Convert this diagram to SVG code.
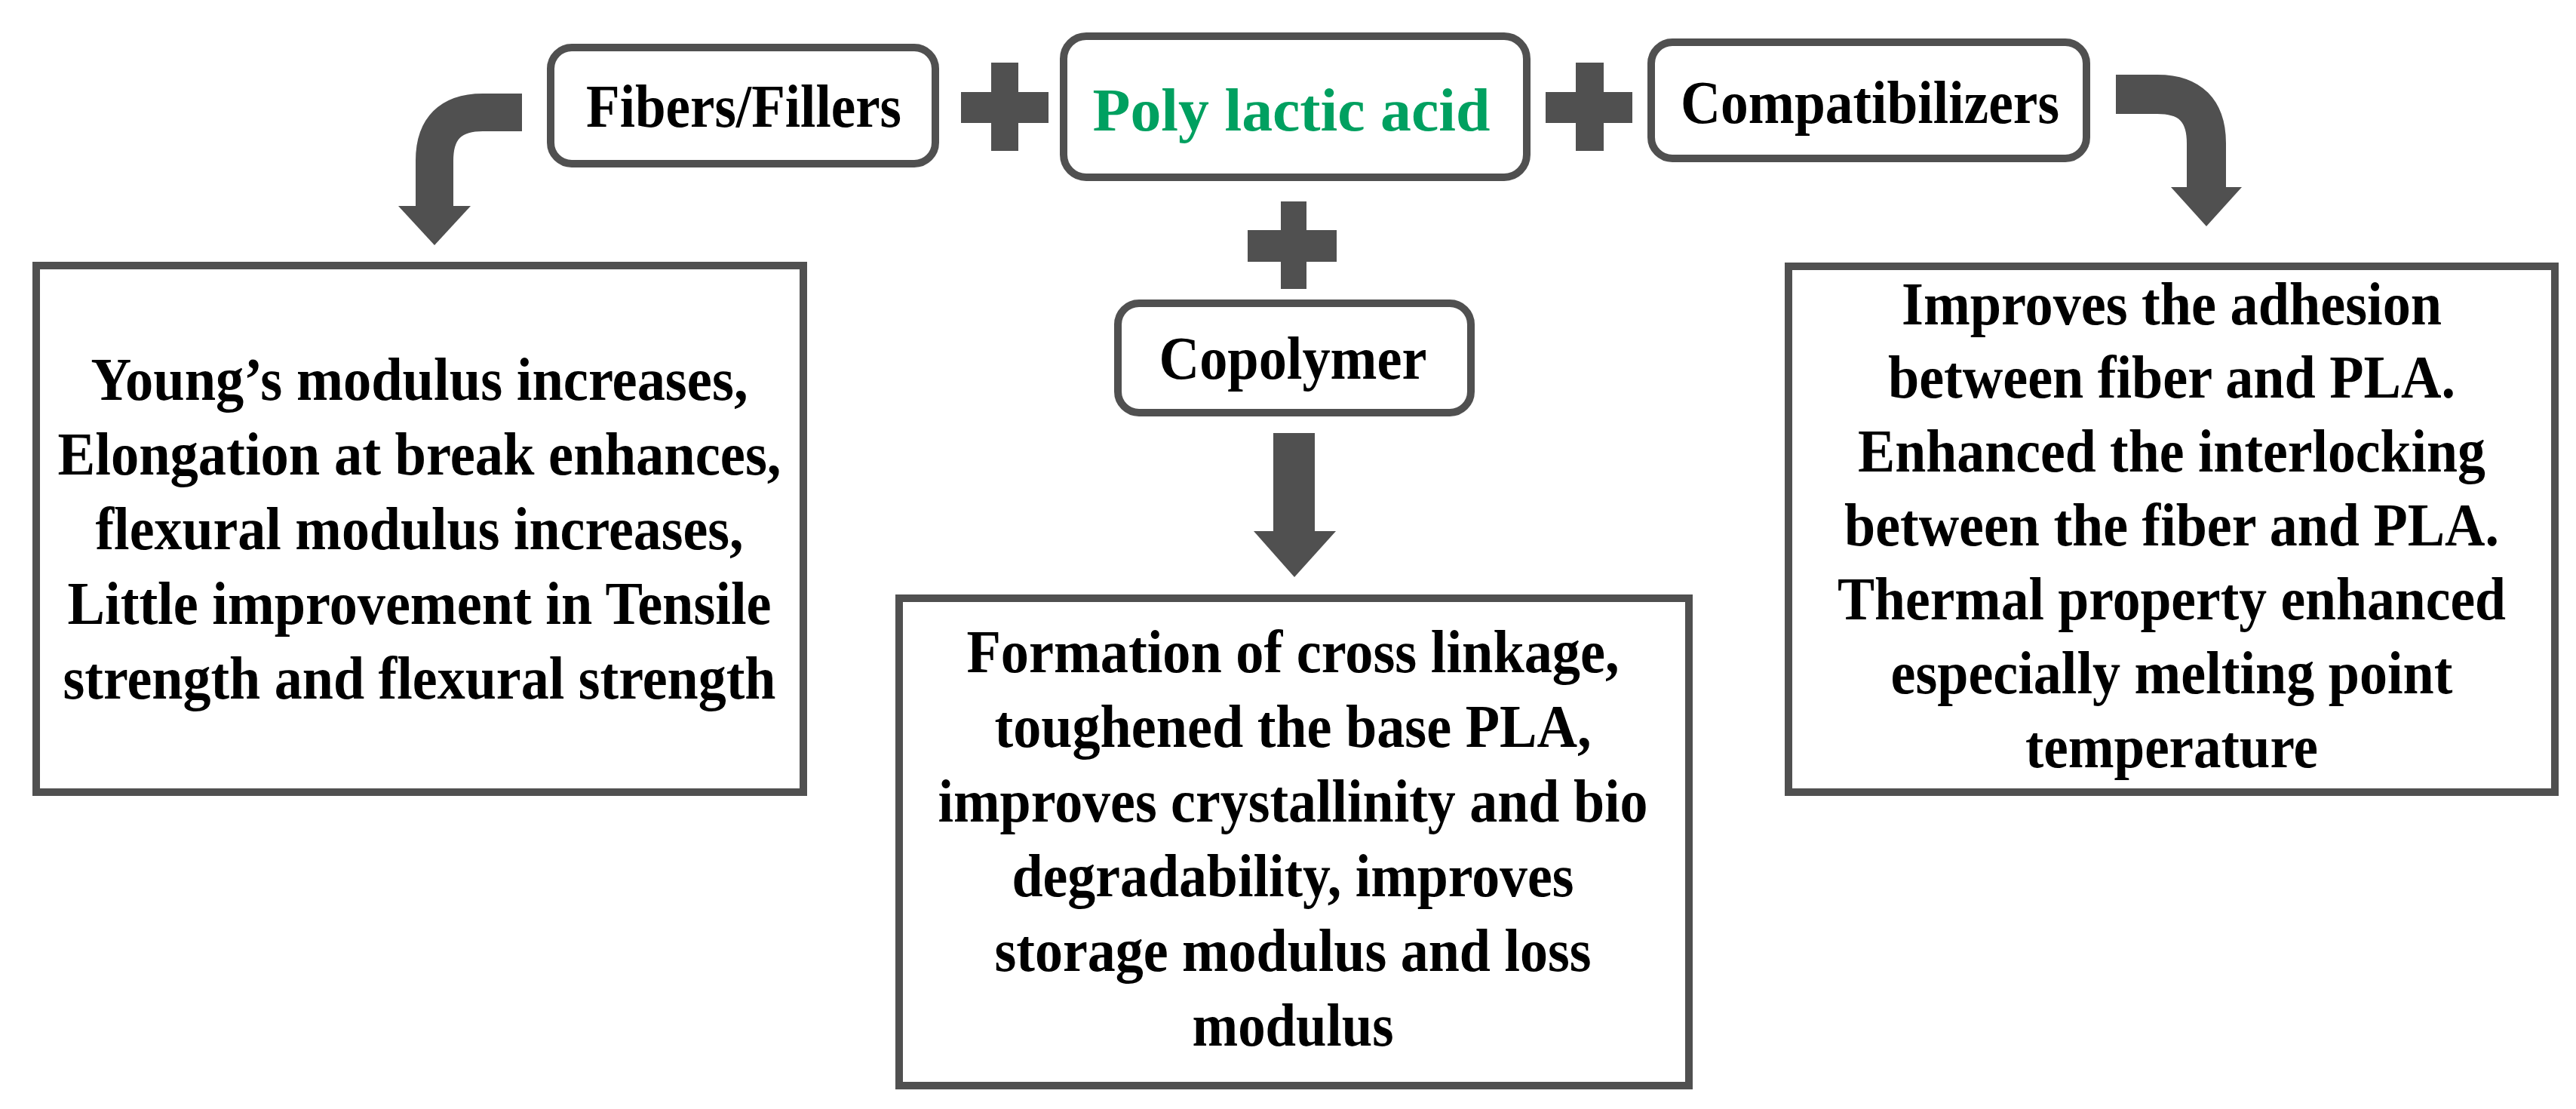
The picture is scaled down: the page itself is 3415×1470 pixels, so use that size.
<svg xmlns="http://www.w3.org/2000/svg" width="3415" height="1470" viewBox="0 0 3415 1470">
<style>
.box{fill:#fff;stroke:#505050;stroke-width:10}
.t{font-family:"Liberation Serif","Times New Roman",serif;font-weight:bold;font-size:80px;text-anchor:middle;fill:#000}
.g{fill:#00a060}
.c{fill:#505050}
.arr{fill:none;stroke:#505050}
</style>
<rect width="3415" height="1470" fill="#fff"/>
<g id="connectors">
<path class="arr" stroke-width="50" d="M692,149 H640 Q576,149 576,213 V276"/>
<polygon class="c" points="528,273 624,273 576,325"/>
<path class="arr" stroke-width="52" d="M2805,125 H2860 Q2925,125 2925,190 V250"/>
<polygon class="c" points="2878,248 2972,248 2925,300"/>
<rect class="c" x="1688" y="574" width="55" height="132"/>
<polygon class="c" points="1662,704 1771,704 1716,765"/>
<rect class="c" x="1314" y="83" width="36" height="117"/>
<rect class="c" x="1274" y="122" width="116" height="41"/>
<rect class="c" x="2089" y="83" width="37" height="117"/>
<rect class="c" x="2049" y="122" width="115" height="41"/>
<rect class="c" x="1698" y="267" width="34" height="116"/>
<rect class="c" x="1654" y="305" width="118" height="42"/>
</g>
<g id="fibers">
<rect class="box" x="730" y="63" width="510" height="154" rx="28"/>
<text class="t" x="986" y="168" textLength="418" lengthAdjust="spacingAndGlyphs">Fibers/Fillers</text>
</g>
<g id="pla">
<rect class="box" x="1410" y="48" width="614" height="187" rx="30"/>
<text class="t g" x="1712" y="173" textLength="527" lengthAdjust="spacingAndGlyphs">Poly lactic acid</text>
</g>
<g id="compat">
<rect class="box" x="2189" y="56" width="577" height="154" rx="28"/>
<text class="t" x="2479" y="163" textLength="502" lengthAdjust="spacingAndGlyphs">Compatibilizers</text>
</g>
<g id="copolymer">
<rect class="box" x="1482" y="402" width="468" height="145" rx="28"/>
<text class="t" x="1714" y="502" textLength="355" lengthAdjust="spacingAndGlyphs">Copolymer</text>
</g>
<g id="left">
<rect class="box" x="48" y="352" width="1017" height="698"/>
<text class="t" x="556" y="530" textLength="871" lengthAdjust="spacingAndGlyphs">Young’s modulus increases,</text>
<text class="t" x="556" y="629" textLength="959" lengthAdjust="spacingAndGlyphs">Elongation at break enhances,</text>
<text class="t" x="556" y="728" textLength="859" lengthAdjust="spacingAndGlyphs">flexural modulus increases,</text>
<text class="t" x="556" y="827" textLength="933" lengthAdjust="spacingAndGlyphs">Little improvement in Tensile</text>
<text class="t" x="556" y="926" textLength="945" lengthAdjust="spacingAndGlyphs">strength and flexural strength</text>
</g>
<g id="center">
<rect class="box" x="1192" y="793" width="1047" height="646"/>
<text class="t" x="1714" y="891" textLength="865" lengthAdjust="spacingAndGlyphs">Formation of cross linkage,</text>
<text class="t" x="1714" y="990" textLength="791" lengthAdjust="spacingAndGlyphs">toughened the base PLA,</text>
<text class="t" x="1714" y="1089" textLength="941" lengthAdjust="spacingAndGlyphs">improves crystallinity and bio</text>
<text class="t" x="1714" y="1188" textLength="745" lengthAdjust="spacingAndGlyphs">degradability, improves</text>
<text class="t" x="1714" y="1287" textLength="791" lengthAdjust="spacingAndGlyphs">storage modulus and loss</text>
<text class="t" x="1714" y="1386" textLength="267" lengthAdjust="spacingAndGlyphs">modulus</text>
</g>
<g id="right">
<rect class="box" x="2371" y="353" width="1016" height="697"/>
<text class="t" x="2879" y="430" textLength="716" lengthAdjust="spacingAndGlyphs">Improves the adhesion</text>
<text class="t" x="2879" y="527" textLength="752" lengthAdjust="spacingAndGlyphs">between fiber and PLA.</text>
<text class="t" x="2879" y="625" textLength="832" lengthAdjust="spacingAndGlyphs">Enhanced the interlocking</text>
<text class="t" x="2879" y="723" textLength="868" lengthAdjust="spacingAndGlyphs">between the fiber and PLA.</text>
<text class="t" x="2879" y="821" textLength="886" lengthAdjust="spacingAndGlyphs">Thermal property enhanced</text>
<text class="t" x="2879" y="919" textLength="745" lengthAdjust="spacingAndGlyphs">especially melting point</text>
<text class="t" x="2879" y="1017" textLength="388" lengthAdjust="spacingAndGlyphs">temperature</text>
</g>
</svg>
